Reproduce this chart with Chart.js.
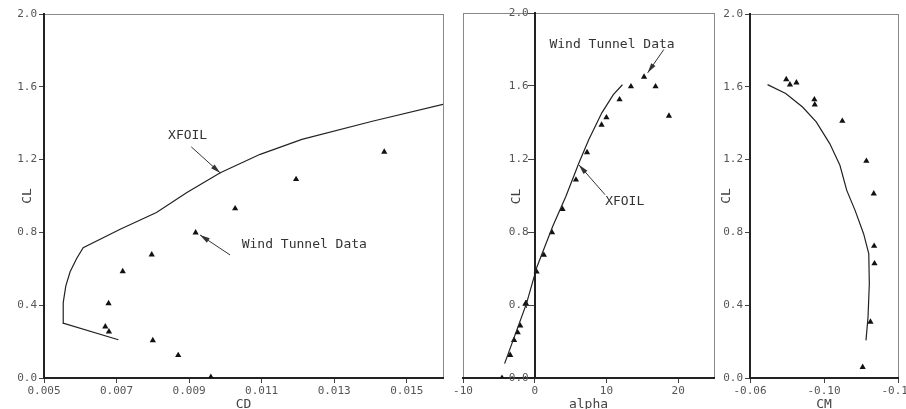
<!DOCTYPE html>
<html>
<head>
<meta charset="utf-8">
<script src="https://cdn.jsdelivr.net/npm/chart.js@4.4.0/dist/chart.umd.min.js"></script>
<style>
  html, body { margin: 0; padding: 0; background: #fff; overflow: hidden; }
  body { width: 906px; height: 409px; position: relative; }
  canvas { position: absolute; top: 0; }
  #polarChart { left: 0; }
  #liftChart { left: 448px; }
  #momentChart { left: 718px; }
</style>
</head>
<body>
<canvas id="polarChart" width="452" height="409"></canvas>
<canvas id="liftChart" width="270" height="409"></canvas>
<canvas id="momentChart" width="220" height="409"></canvas>
<script>
// Tick labels
const clTicks = [0, 0.4, 0.8, 1.2, 1.6, 2.0];
const cdTicks = [0.005, 0.007, 0.009, 0.011, 0.013, 0.015];
const alphaTicks = [-10, 0, 10, 20];
const cmTicks = [-0.06, -0.10, -0.14];

// Drag polar (CL vs CD)
const xfoilCd = [0.00705, 0.00555, 0.00553, 0.0056, 0.00572, 0.0059, 0.00608, 0.0071, 0.0081, 0.00894, 0.00986, 0.01096, 0.01211, 0.01408, 0.016];
const xfoilClPolar = [0.21, 0.30, 0.414, 0.505, 0.584, 0.657, 0.716, 0.817, 0.909, 1.019, 1.128, 1.229, 1.311, 1.412, 1.504];
const tunnelCd = [0.0096, 0.0087, 0.0080, 0.00679, 0.00669, 0.00678, 0.00717, 0.00797, 0.00918, 0.01027, 0.01195, 0.01438];
const tunnelClPolar = [0.005, 0.125, 0.207, 0.255, 0.282, 0.41, 0.586, 0.678, 0.799, 0.931, 1.092, 1.242];

// Lift curve (CL vs alpha)
const xfoilAlpha = [-4.2, -1.14, 0.32, 2.5, 4.34, 6.16, 7.53, 9.36, 10.96, 12.23];
const xfoilClLift = [0.079, 0.409, 0.61, 0.83, 0.995, 1.178, 1.306, 1.453, 1.553, 1.607];
const tunnelAlpha = [-4.56, -3.42, -2.88, -2.37, -2.01, -1.23, 0.27, 1.28, 2.42, 3.88, 5.75, 7.3, 9.32, 10.0, 11.83, 13.42, 15.25, 16.85, 18.72];
const tunnelClLift = [0.0, 0.125, 0.207, 0.249, 0.286, 0.409, 0.582, 0.674, 0.797, 0.925, 1.086, 1.236, 1.387, 1.427, 1.526, 1.597, 1.65, 1.597, 1.436];

// Moment curve (CL vs CM)
const xfoilCm = [-0.0695, -0.0793, -0.0884, -0.0958, -0.1031, -0.1086, -0.1123, -0.1168, -0.1214, -0.1242, -0.1245, -0.1238, -0.1227];
const xfoilClMoment = [1.612, 1.563, 1.489, 1.407, 1.288, 1.169, 1.031, 0.921, 0.793, 0.683, 0.519, 0.335, 0.207];
const tunnelCm = [-0.0796, -0.0816, -0.0851, -0.0948, -0.095, -0.1099, -0.1229, -0.1269, -0.1271, -0.1273, -0.1251, -0.1209];
const tunnelClMoment = [1.641, 1.612, 1.623, 1.53, 1.502, 1.412, 1.192, 1.013, 0.725, 0.629, 0.308, 0.06];

const mono = '"DejaVu Sans Mono", monospace';
const tickFont = { family: mono, size: 11 };
const titleFont = { family: mono, size: 13, lineHeight: 1 };
const inkColor = '#222';
const labelColor = '#555';

const pairs = (xs, ys) => xs.map((x, i) => ({ x: x, y: ys[i] }));
const fixedTicks = values => scale => { scale.ticks = values.map(v => ({ value: v })); };

// the crossing axis puts its labels flush on the line; nudge them left of the tick marks
const shiftLabels = dx => scale => {
  if (scale.$shifted) return;
  const draw = scale.drawLabels;
  scale.drawLabels = function (area) {
    this.ctx.save();
    this.ctx.translate(dx, 0);
    draw.call(this, area);
    this.ctx.restore();
  };
  scale.$shifted = true;
};

function xfoilSet(data) {
  return { label: 'XFOIL', data: data, showLine: true, borderColor: inkColor, borderWidth: 1.2, pointRadius: 0, tension: 0 };
}
function tunnelSet(data) {
  return { label: 'Wind Tunnel Data', data: data, showLine: false, pointStyle: 'triangle', pointRadius: 3.6, backgroundColor: '#111', borderColor: '#111', borderWidth: 0 };
}
function axisStyle(extra) {
  return Object.assign({
    type: 'linear',
    ticks: { font: tickFont, color: labelColor, padding: 2, maxRotation: 0, autoSkip: false },
    grid: { drawOnChartArea: false, tickLength: 5, color: '#444' },
    border: { color: inkColor, width: 2 }
  }, extra);
}

// thin box round the plot area
const frame = {
  id: 'frame',
  beforeDraw(chart) {
    const { ctx, chartArea: a } = chart;
    ctx.save();
    ctx.strokeStyle = '#888';
    ctx.lineWidth = 1;
    ctx.strokeRect(a.left + 0.5, a.top + 0.5, a.width, a.height);
    ctx.restore();
  }
};

// text labels with arrows
const notes = {
  id: 'notes',
  afterDatasetsDraw(chart, args, opts) {
    const { ctx, scales: { x, y } } = chart;
    ctx.save();
    ctx.fillStyle = '#333';
    ctx.strokeStyle = '#333';
    ctx.lineWidth = 1;
    ctx.textBaseline = 'middle';
    (opts.items || []).forEach(n => {
      const tx = x.getPixelForValue(n.at[0]), ty = y.getPixelForValue(n.at[1]);
      if (n.rotate) {
        ctx.save();
        ctx.font = '13px ' + mono;
        ctx.fillStyle = '#444';
        ctx.textAlign = 'center';
        ctx.translate(tx, ty);
        ctx.rotate(-Math.PI / 2);
        ctx.fillText(n.text, 0, 0);
        ctx.restore();
        return;
      }
      ctx.font = '13px ' + mono;
      ctx.fillText(n.text, tx, ty);
      const x1 = x.getPixelForValue(n.from[0]), y1 = y.getPixelForValue(n.from[1]);
      const x2 = x.getPixelForValue(n.to[0]), y2 = y.getPixelForValue(n.to[1]);
      const ang = Math.atan2(y2 - y1, x2 - x1);
      ctx.beginPath();
      ctx.moveTo(x1, y1);
      ctx.lineTo(x2, y2);
      ctx.stroke();
      ctx.beginPath();
      ctx.moveTo(x2, y2);
      ctx.lineTo(x2 - 10 * Math.cos(ang) + 2.6 * Math.sin(ang), y2 - 10 * Math.sin(ang) - 2.6 * Math.cos(ang));
      ctx.lineTo(x2 - 10 * Math.cos(ang) - 2.6 * Math.sin(ang), y2 - 10 * Math.sin(ang) + 2.6 * Math.cos(ang));
      ctx.closePath();
      ctx.fill();
    });
    ctx.restore();
  }
};

const baseOptions = {
  responsive: false,
  animation: false,
  events: []
};

// Left: CL vs CD
new Chart(document.getElementById('polarChart'), {
  type: 'scatter',
  data: { datasets: [xfoilSet(pairs(xfoilCd, xfoilClPolar)), tunnelSet(pairs(tunnelCd, tunnelClPolar))] },
  options: Object.assign({}, baseOptions, {
    layout: { padding: { top: 14, right: 9, left: 0, bottom: 0 } },
    plugins: {
      legend: { display: false },
      tooltip: { enabled: false },
      notes: { items: [
        { text: 'XFOIL', at: [0.00842, 1.33], from: [0.00906, 1.27], to: [0.00986, 1.126] },
        { text: 'Wind Tunnel Data', at: [0.01045, 0.731], from: [0.01013, 0.676], to: [0.0093, 0.786] }
      ] }
    },
    scales: {
      x: axisStyle({
        min: 0.005, max: 0.016,
        afterBuildTicks: fixedTicks(cdTicks),
        afterFit: s => { s.height = 31; },
        ticks: Object.assign({}, axisStyle().ticks, { callback: v => v.toFixed(3) }),
        title: { display: true, text: 'CD', font: titleFont, color: '#444', padding: { top: 0, bottom: -2 } }
      }),
      y: axisStyle({
        min: 0, max: 2,
        afterBuildTicks: fixedTicks(clTicks),
        afterFit: s => { s.width = 44; },
        ticks: Object.assign({}, axisStyle().ticks, { callback: v => v.toFixed(1) }),
        title: { display: true, text: 'CL', font: titleFont, color: '#444', padding: { top: 21, bottom: 0 } }
      })
    }
  }),
  plugins: [frame, notes]
});

// Middle: CL vs alpha, CL axis crossing at alpha = 0
new Chart(document.getElementById('liftChart'), {
  type: 'scatter',
  data: { datasets: [xfoilSet(pairs(xfoilAlpha, xfoilClLift)), tunnelSet(pairs(tunnelAlpha, tunnelClLift))] },
  options: Object.assign({}, baseOptions, {
    layout: { padding: { top: 13, right: 3, left: 15, bottom: 0 } },
    plugins: {
      legend: { display: false },
      tooltip: { enabled: false },
      notes: { items: [
        { text: 'Wind Tunnel Data', at: [2.05, 1.828], from: [18.0, 1.80], to: [15.75, 1.672] },
        { text: 'XFOIL', at: [9.82, 0.967], from: [9.82, 1.004], to: [6.16, 1.168] },
        { text: 'CL', at: [-2.5, 0.995], rotate: true }
      ] }
    },
    scales: {
      x: axisStyle({
        min: -10, max: 25,
        afterBuildTicks: fixedTicks(alphaTicks),
        afterFit: s => { s.height = 31; },
        ticks: Object.assign({}, axisStyle().ticks, { callback: v => String(v) }),
        title: { display: true, text: 'alpha', font: titleFont, color: '#444', padding: { top: 0, bottom: -2 } }
      }),
      y: axisStyle({
        min: 0, max: 2,
        position: { x: 0 },
        afterBuildTicks: fixedTicks(clTicks),
        afterUpdate: shiftLabels(-6),
        grid: { drawOnChartArea: false, tickLength: 6, color: '#444' },
        ticks: Object.assign({}, axisStyle().ticks, { callback: v => v.toFixed(1) }),
        title: { display: false }
      })
    }
  }),
  plugins: [frame, notes]
});

// Right: CL vs CM
new Chart(document.getElementById('momentChart'), {
  type: 'scatter',
  data: { datasets: [xfoilSet(pairs(xfoilCm, xfoilClMoment)), tunnelSet(pairs(tunnelCm, tunnelClMoment))] },
  options: Object.assign({}, baseOptions, {
    layout: { padding: { top: 14, right: 40, left: 0, bottom: 0 } },
    plugins: {
      legend: { display: false },
      tooltip: { enabled: false }
    },
    scales: {
      x: axisStyle({
        min: -0.14, max: -0.06, reverse: true,
        afterBuildTicks: fixedTicks(cmTicks),
        afterFit: s => { s.height = 31; },
        ticks: Object.assign({}, axisStyle().ticks, { callback: v => v.toFixed(2) }),
        title: { display: true, text: 'CM', font: titleFont, color: '#444', padding: { top: 0, bottom: -2 } }
      }),
      y: axisStyle({
        min: 0, max: 2,
        afterBuildTicks: fixedTicks(clTicks),
        afterFit: s => { s.width = 32; },
        ticks: Object.assign({}, axisStyle().ticks, { callback: v => v.toFixed(1) }),
        title: { display: true, text: 'CL', font: titleFont, color: '#444', padding: { top: 2.5, bottom: 0 } }
      })
    }
  }),
  plugins: [frame]
});
</script>
</body>
</html>
